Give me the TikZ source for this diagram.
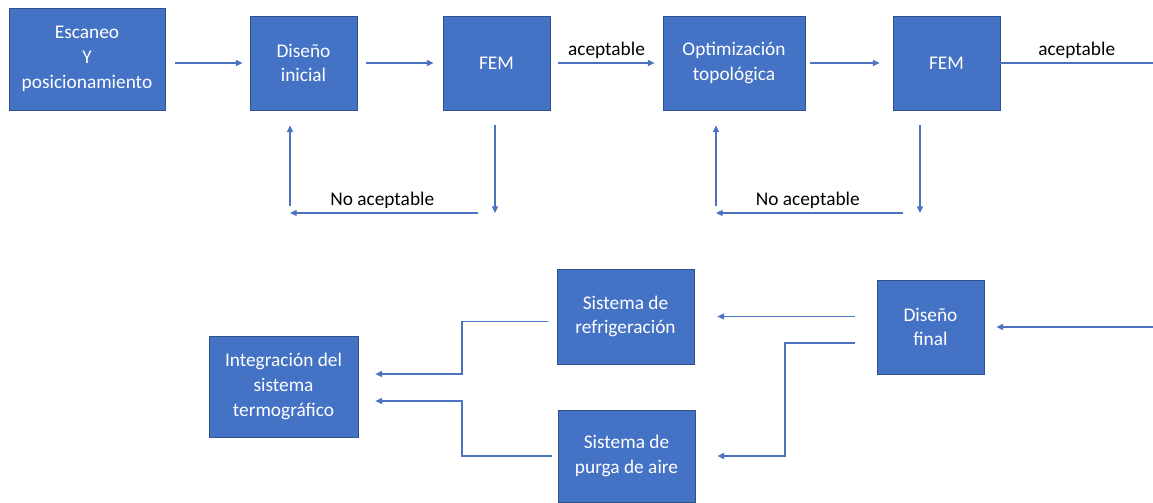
\documentclass[tikz,border=0pt]{standalone}
\usepackage{fontspec}
\setmainfont{Carlito}
\usetikzlibrary{arrows.meta,calc}
\definecolor{boxblue}{HTML}{4472C4}
\definecolor{boxedge}{HTML}{2F528F}
\definecolor{lineblue}{HTML}{4A72BE}

\begin{document}
\begin{tikzpicture}[x=0.75pt, y=-0.75pt,
    box/.style={draw=boxedge, line width=0.6pt, fill=boxblue, text=white, align=center,
        inner sep=0pt, font=\fontsize{14.5}{18.5}\selectfont},
    arr/.style={draw=lineblue, line width=0.8pt, -{Triangle[length=5pt,width=4.5pt]}},
    link/.style={draw=lineblue, line width=0.8pt},
    lbl/.style={text=black, font=\fontsize{14.5}{17}\selectfont, inner sep=3pt}]

    \useasboundingbox (0,0) rectangle (1153,503);

    % Top row
    \node[box, minimum width=117pt, minimum height=76.5pt] (scan) at (87,59) {Escaneo\\Y\\posicionamiento};
    \node[box, minimum width=80.25pt, minimum height=70.5pt] (ini) at (303.5,63) {Diseño\\inicial};
    \node[box, minimum width=80.25pt, minimum height=70.5pt] (fem1) at (496.5,63) {FEM};
    \node[box, minimum width=106.5pt, minimum height=70.5pt] (opt) at (734,63) {Optimización\\topológica};
    \node[box, minimum width=80.25pt, minimum height=70.5pt] (fem2) at (946.5,63) {FEM};

    % Bottom row
    \node[box, minimum width=102.75pt, minimum height=71.25pt] (refr) at (625.5,316.5) {Sistema de\\refrigeración};
    \node[box, minimum width=102.75pt, minimum height=69pt] (purga) at (626.5,456) {Sistema de\\purga de aire};
    \node[box, minimum width=111.75pt, minimum height=75.75pt] (integ) at (283.5,386.5) {Integración del\\sistema\\termográfico};
    \node[box, minimum width=80.25pt, minimum height=70.5pt] (fin) at (930.5,327) {Diseño\\final};

    % Free ends and corners
    \coordinate (c1) at (495,213);
    \coordinate (c2) at (290,213);
    \coordinate (c3) at (920,213);
    \coordinate (c4) at (716,213);
    \coordinate (out1) at (1153,63);
    \coordinate (in1) at (1153,327);
    \coordinate (k1) at (785,456);
    \coordinate (b1) at (462,374);
    \coordinate (b2) at (462,401);

    % Forward chain
    \draw[arr, shorten <=7.5pt, shorten >=5.25pt] (scan.east |- ini.west) -- (ini.west);
    \draw[arr, shorten <=6.75pt, shorten >=6.75pt] (ini) -- (fem1);
    \draw[arr, shorten <=6pt, shorten >=6pt] (fem1) -- (opt) node[lbl, midway, above] {aceptable};
    \draw[arr, shorten <=3.75pt, shorten >=9.75pt] (opt) -- (fem2);
    \draw[link] (fem2.east) -- (out1) node[lbl, midway, above] {aceptable};

    % First loop back
    \draw[arr, shorten <=11.25pt] (fem1.south -| c1) -- (c1);
    \draw[arr, shorten <=12.75pt] (c1) -- (c2) node[lbl, pos=0.55, above] {No aceptable};
    \draw[arr, shorten <=5.25pt, shorten >=11.25pt] (c2) -- (c2 |- ini.south);

    % Second loop back
    \draw[arr, shorten <=11.25pt] (fem2.south -| c3) -- (c3);
    \draw[arr, shorten <=12.75pt] (c3) -- (c4) node[lbl, pos=0.55, above] {No aceptable};
    \draw[arr, shorten <=5.25pt, shorten >=11.25pt] (c4) -- (c4 |- opt.south);

    % Final design
    \draw[arr, shorten >=9pt] (in1) -- (fin.east);
    \draw[arr, shorten <=16.5pt, shorten >=17.25pt] (fin.west |- refr.east) -- (refr.east);
    \draw[arr, shorten <=16.5pt, shorten >=16.5pt] ($(fin.west)+(0,16)$) -| (k1) -- (purga.east);

    % Integration
    \draw[arr, shorten <=6.75pt, shorten >=12.75pt] ($(refr.west)+(0,5)$) -| (b1) -- (b1 -| integ.east);
    \draw[arr, shorten <=4.5pt, shorten >=12.75pt] (purga.west) -| (b2) -- (b2 -| integ.east);

\end{tikzpicture}
\end{document}
